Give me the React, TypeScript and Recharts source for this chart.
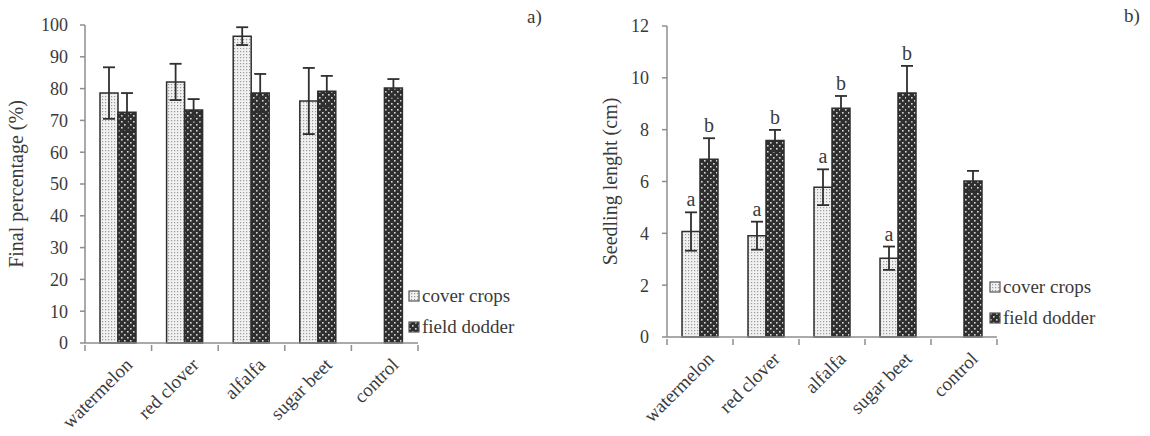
import { Bar, BarChart, ErrorBar, LabelList, Legend, XAxis, YAxis } from "recharts"

const categories = ["watermelon", "red clover", "alfalfa", "sugar beet", "control"]

// a) final percentage (%)
const finalCover = [78.6, 82.1, 96.5, 76.1, null]
const finalCoverErr = [8.1, 5.7, 2.8, 10.4, null]
const finalDodder = [72.6, 73.3, 78.6, 79.2, 80.2]
const finalDodderErr = [6.0, 3.4, 6.0, 4.8, 2.8]
const finalTicks = [0, 10, 20, 30, 40, 50, 60, 70, 80, 90, 100]

// b) seedling length (cm)
const lengthCover = [4.07, 3.91, 5.78, 3.04, null]
const lengthCoverErr = [0.74, 0.54, 0.69, 0.45, null]
const lengthDodder = [6.86, 7.58, 8.83, 9.41, 6.02]
const lengthDodderErr = [0.81, 0.41, 0.47, 1.05, 0.39]
const coverLetters = ["a", "a", "a", "a", ""]
const dodderLetters = ["b", "b", "b", "b", ""]
const lengthTicks = [0, 2, 4, 6, 8, 10, 12]

const seriesNames = ["cover crops", "field dodder"]

const FONT = "'Liberation Serif', 'DejaVu Serif', serif"
const TEXT = "#3a3a3a"
const AXIS = "#8e8e8e"
const DARK = "#2f2f2f"

const finalData = categories.map((name, i) => ({
  name,
  cover: finalCover[i],
  coverErr: finalCoverErr[i],
  dodder: finalDodder[i],
  dodderErr: finalDodderErr[i],
}))

const lengthData = categories.map((name, i) => ({
  name,
  cover: lengthCover[i],
  coverErr: lengthCoverErr[i],
  dodder: lengthDodder[i],
  dodderErr: lengthDodderErr[i],
  coverLetter: coverLetters[i],
  dodderLetter: dodderLetters[i],
}))

function Patterns({ prefix }: { prefix: string }) {
  return (
    <defs>
      <pattern id={`${prefix}-light`} width="3" height="3" patternUnits="userSpaceOnUse">
        <rect width="3" height="3" fill="#f1f1f1" />
        <rect x="0" y="0" width="1.2" height="1.2" fill="#9a9a9a" />
      </pattern>
      <pattern id={`${prefix}-dark`} width="6" height="6" patternUnits="userSpaceOnUse">
        <rect width="6" height="6" fill={DARK} />
        <rect x="1" y="1" width="1.6" height="1.6" fill="#d8d8d8" />
        <rect x="4" y="4" width="1.6" height="1.6" fill="#d8d8d8" />
      </pattern>
    </defs>
  )
}

function CategoryTick(props: any) {
  const { x, y, payload, width } = props
  const index = payload?.index ?? props.index ?? 0
  const band = (width ?? 333) / categories.length
  const left = x - band / 2
  return (
    <g>
      <line x1={left} y1={y} x2={left} y2={y + 6} stroke={AXIS} strokeWidth={1.5} />
      {index === categories.length - 1 && (
        <line x1={x + band / 2} y1={y} x2={x + band / 2} y2={y + 6} stroke={AXIS} strokeWidth={1.5} />
      )}
      <text
        transform={`translate(${x + 12}, ${y + 18}) rotate(-45)`}
        textAnchor="end"
        dominantBaseline="middle"
        fontFamily={FONT}
        fontSize={19}
        fill={TEXT}
      >
        {payload.value}
      </text>
    </g>
  )
}

function legendContent(prefix: string) {
  return () => (
    <div style={{ fontFamily: FONT, fontSize: 19, color: TEXT, lineHeight: "31px" }}>
      {seriesNames.map((name, i) => (
        <div key={name} style={{ display: "flex", alignItems: "center", whiteSpace: "nowrap" }}>
          <svg width={12} height={12} style={{ marginRight: 2 }}>
            <Patterns prefix={`${prefix}-lg${i}`} />
            <rect
              x={1}
              y={1}
              width={10}
              height={10}
              fill={`url(#${prefix}-lg${i}-${i === 0 ? "light" : "dark"})`}
              stroke="#555"
              strokeWidth={1.2}
            />
          </svg>
          {name}
        </div>
      ))}
    </div>
  )
}

function yLabel(text: string, dx: number) {
  return (props: any) => {
    const vb = props.viewBox
    const cx = vb.x + dx
    const cy = vb.y + vb.height / 2
    return (
      <text
        x={cx}
        y={cy}
        transform={`rotate(-90, ${cx}, ${cy})`}
        textAnchor="middle"
        dominantBaseline="middle"
        fontFamily={FONT}
        fontSize={20}
        fill={TEXT}
      >
        {text}
      </text>
    )
  }
}

function letterLabel(values: (number | null)[], errs: (number | null)[]) {
  return (props: any) => {
    const { x, y, width, height, index, value } = props
    const v = values[index]
    const e = errs[index]
    if (!value || v == null || e == null) return null
    const top = y - (e * height) / v
    return (
      <text x={x + width / 2} y={top - 6} textAnchor="middle" fontFamily={FONT} fontSize={20} fill={TEXT}>
        {value}
      </text>
    )
  }
}

const tickStyle = { fontFamily: FONT, fontSize: 18, fill: TEXT }

export default function App() {
  return (
    <div style={{ position: "absolute", left: 0, top: 0, width: 1150, height: 436, background: "#fff" }}>
      <div style={{ position: "absolute", left: 0, top: 0 }}>
        <BarChart
          width={560}
          height={436}
          data={finalData}
          margin={{ top: 25, right: 142, bottom: 0, left: 0 }}
          barSize={18}
          barGap={0}
        >
          <Patterns prefix="fa" />
          <XAxis
            dataKey="name"
            height={93}
            interval={0}
            axisLine={{ stroke: AXIS, strokeWidth: 1.5 }}
            tickLine={false}
            tickSize={0}
            tick={<CategoryTick />}
          />
          <YAxis
            width={85}
            domain={[0, 100]}
            ticks={finalTicks}
            interval={0}
            axisLine={{ stroke: AXIS, strokeWidth: 1.5 }}
            tickLine={{ stroke: AXIS, strokeWidth: 1.5 }}
            tickSize={5}
            tickMargin={12}
            tick={tickStyle}
            label={yLabel("Final percentage (%)", 18)}
          />
          <Legend
            layout="horizontal"
            verticalAlign="middle"
            align="center"
            content={legendContent("fa")}
            wrapperStyle={{ position: "absolute", left: 408, top: 280, width: "auto" }}
          />
          <Bar dataKey="cover" name={seriesNames[0]} fill="url(#fa-light)" stroke={DARK} strokeWidth={1.5} isAnimationActive={false}>
            <ErrorBar dataKey="coverErr" width={6} stroke={DARK} strokeWidth={1.8} />
          </Bar>
          <Bar dataKey="dodder" name={seriesNames[1]} fill="url(#fa-dark)" stroke={DARK} strokeWidth={1.5} isAnimationActive={false}>
            <ErrorBar dataKey="dodderErr" width={6} stroke={DARK} strokeWidth={1.8} />
          </Bar>
        </BarChart>
      </div>

      <div style={{ position: "absolute", left: 580, top: 0 }}>
        <BarChart
          width={570}
          height={436}
          data={lengthData}
          margin={{ top: 26, right: 153, bottom: 0, left: 0 }}
          barSize={18}
          barGap={0}
        >
          <Patterns prefix="fb" />
          <XAxis
            dataKey="name"
            height={99}
            interval={0}
            axisLine={{ stroke: AXIS, strokeWidth: 1.5 }}
            tickLine={false}
            tickSize={0}
            tick={<CategoryTick />}
          />
          <YAxis
            width={87}
            domain={[0, 12]}
            ticks={lengthTicks}
            interval={0}
            axisLine={{ stroke: AXIS, strokeWidth: 1.5 }}
            tickLine={{ stroke: AXIS, strokeWidth: 1.5 }}
            tickSize={5}
            tickMargin={13}
            tick={tickStyle}
            label={yLabel("Seedling lenght (cm)", 32)}
          />
          <Legend
            layout="horizontal"
            verticalAlign="middle"
            align="center"
            content={legendContent("fb")}
            wrapperStyle={{ position: "absolute", left: 409, top: 271, width: "auto" }}
          />
          <Bar dataKey="cover" name={seriesNames[0]} fill="url(#fb-light)" stroke={DARK} strokeWidth={1.5} isAnimationActive={false}>
            <ErrorBar dataKey="coverErr" width={6} stroke={DARK} strokeWidth={1.8} />
            <LabelList dataKey="coverLetter" content={letterLabel(lengthCover, lengthCoverErr)} />
          </Bar>
          <Bar dataKey="dodder" name={seriesNames[1]} fill="url(#fb-dark)" stroke={DARK} strokeWidth={1.5} isAnimationActive={false}>
            <ErrorBar dataKey="dodderErr" width={6} stroke={DARK} strokeWidth={1.8} />
            <LabelList dataKey="dodderLetter" content={letterLabel(lengthDodder, lengthDodderErr)} />
          </Bar>
        </BarChart>
      </div>

      <div style={{ position: "absolute", left: 527, top: 6, fontFamily: FONT, fontSize: 19, color: TEXT }}>a)</div>
      <div style={{ position: "absolute", left: 1124, top: 5, fontFamily: FONT, fontSize: 19, color: TEXT }}>b)</div>
    </div>
  )
}
